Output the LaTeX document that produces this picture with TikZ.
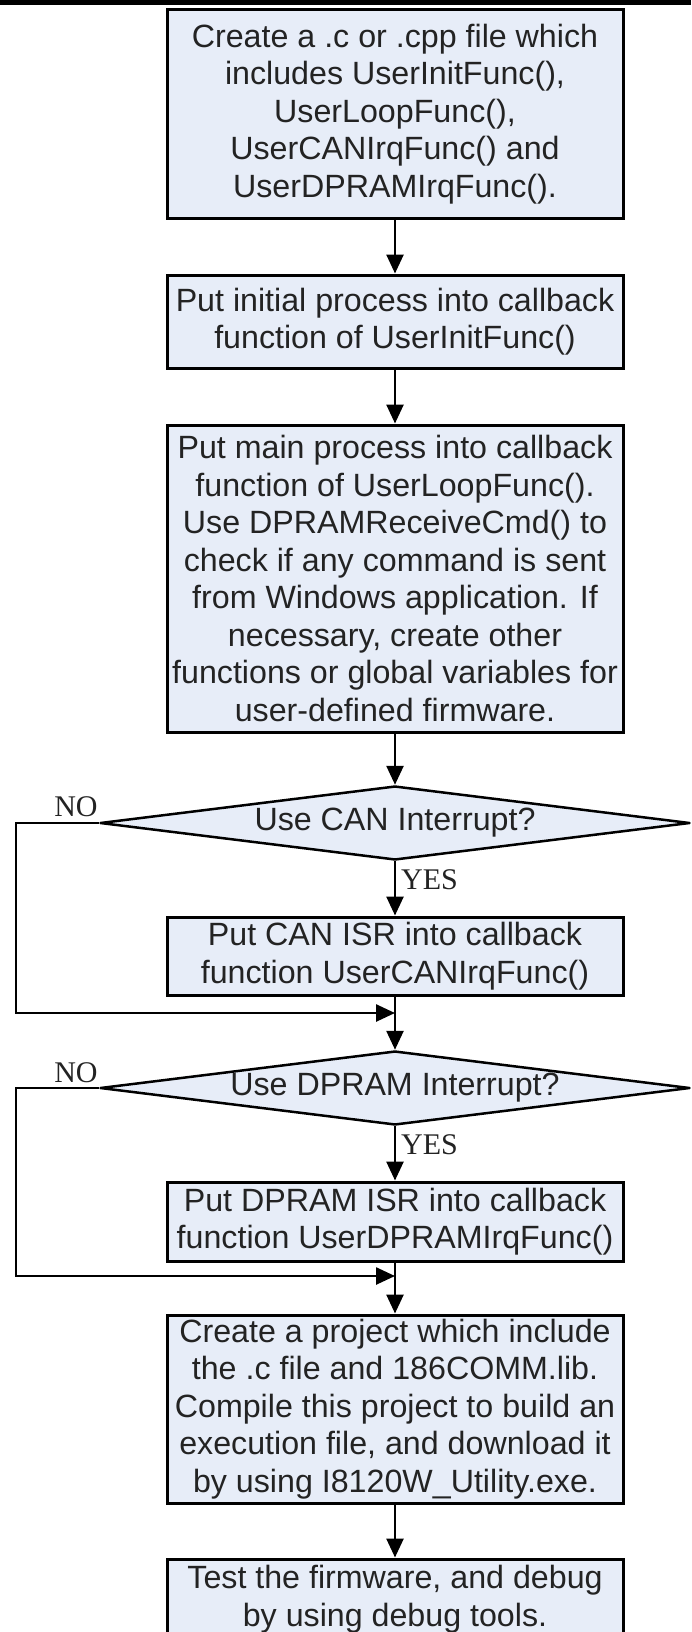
\documentclass[tikz,border=0pt]{standalone}
\usepackage{fontspec}
\setmainfont{Liberation Sans}
\newfontfamily\lblfont{Liberation Serif}
\usetikzlibrary{arrows.meta,shapes.geometric}
\definecolor{boxfill}{RGB}{231,237,248}
\definecolor{txt}{RGB}{35,35,35}
\begin{document}
\begin{tikzpicture}[x=1pt,y=-1pt,
  procbox/.style={draw=black,line width=3pt,fill=boxfill,minimum width=456pt,inner sep=0pt,align=center,font=\fontsize{32.2}{37.5}\selectfont,text=txt},
  decbox/.style={draw=black,line width=2.5pt,line join=round,fill=boxfill,shape=diamond,aspect=8,minimum width=590pt,minimum height=74pt,inner sep=0pt,font=\fontsize{32.2}{37.5}\selectfont,text=txt},
  link/.style={line width=2.6pt,draw=black},
  arr/.style={link,-{Triangle[length=19pt,width=17pt]}},
  lbl/.style={font=\lblfont\fontsize{30}{30}\selectfont,inner sep=0pt,text=txt}
]
\useasboundingbox (0,0) rectangle (691,1632);
\clip (0,0) rectangle (691,1632);
\fill[white] (0,0) rectangle (691,1632);
\fill[black] (0,0) rectangle (691,5);

\node[procbox,minimum height=208pt] (b1) at (395,114) {Create a .c or .cpp file which\\includes UserInitFunc(),\\UserLoopFunc(),\\UserCANIrqFunc() and\\UserDPRAMIrqFunc().};
\node[procbox,minimum height=93pt] (b2) at (395,321.5) {Put initial process into callback\\function of UserInitFunc()};
\node[procbox,minimum height=307pt] (b3) at (395,578.5) {Put main process into callback\\function of UserLoopFunc().\\Use DPRAMReceiveCmd() to\\check if any command is sent\\from Windows application. If\\necessary, create other\\functions or global variables for\\user-defined firmware.};
\node[decbox] (d1) at (395,823) {Use CAN Interrupt?};
\node[procbox,minimum height=78pt] (b4) at (395,956) {Put CAN ISR into callback\\function UserCANIrqFunc()};
\coordinate (m1) at (395,1013);
\node[decbox] (d2) at (395,1088) {Use DPRAM Interrupt?};
\node[procbox,minimum height=79pt] (b5) at (395,1221.5) {Put DPRAM ISR into callback\\function UserDPRAMIrqFunc()};
\coordinate (m2) at (395,1276);
\node[procbox,minimum height=188pt] (b6) at (395,1409) {Create a project which include\\the .c file and 186COMM.lib.\\Compile this project to build an\\execution file, and download it\\by using I8120W\_Utility.exe.};
\node[procbox,minimum height=80pt] (b7) at (395,1599) {Test the firmware, and debug\\by using debug tools.};

\coordinate (c1a) at (16,823);
\coordinate (c1b) at (16,1013);
\coordinate (c2a) at (16,1088);
\coordinate (c2b) at (16,1276);

\draw[arr] (b1) -- (b2);
\draw[arr] (b2) -- (b3);
\draw[arr] (b3) -- (d1);
\draw[arr] (d1) -- (b4);
\draw[link] (b4) -- (m1);
\draw[arr] (d1.west) -- (c1a) -- (c1b) -- (m1);
\draw[arr] (m1) -- (d2);
\draw[arr] (d2) -- (b5);
\draw[link] (b5) -- (m2);
\draw[arr] (d2.west) -- (c2a) -- (c2b) -- (m2);
\draw[arr] (m2) -- (b6);
\draw[arr] (b6) -- (b7);

\node[lbl] (no1) at (76,807) {NO};
\node[lbl,anchor=west] (yes1) at (401,880) {YES};
\node[lbl] (no2) at (76,1073) {NO};
\node[lbl,anchor=west] (yes2) at (401,1145) {YES};
\end{tikzpicture}
\end{document}
